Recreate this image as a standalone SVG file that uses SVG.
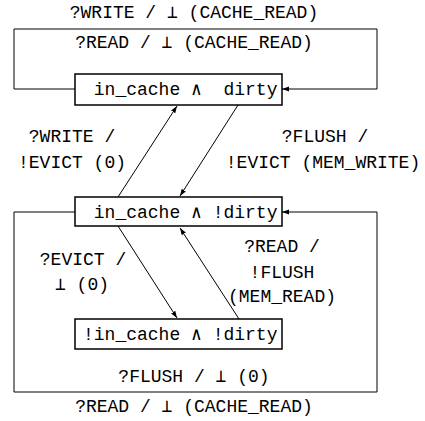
<svg xmlns="http://www.w3.org/2000/svg" width="425" height="421" viewBox="0 0 425 421">
<defs>
<marker id="ah" viewBox="0 0 10 10" refX="10" refY="5" markerWidth="7" markerHeight="7" markerUnits="userSpaceOnUse" orient="auto"><path d="M0,1.5 L10,5 L0,8.5 z" fill="#000"/></marker>
<style>
text{font-family:"Liberation Mono","DejaVu Sans Mono",monospace;font-size:18px;fill:#000;white-space:pre}
.c{text-anchor:middle}
.box{fill:#fff;stroke:#000;stroke-width:1.5}
.ln{fill:none;stroke:#000;stroke-width:1.2}
.ar{fill:none;stroke:#000;stroke-width:1;marker-end:url(#ah)}
</style>
</defs>
<rect width="425" height="421" fill="#fff"/>
<g id="connectors">
<path class="ar" d="M75,89 H14 V29 H377 V89 H282"/>
<path class="ar" d="M75,212 H14 V392 H377 V212 H282"/>
<path class="ar" d="M118,197 L177,106"/>
<path class="ar" d="M238,105 L180,196"/>
<path class="ar" d="M118,226 L177,318"/>
<path class="ar" d="M239,319 L180,228"/>
<text class="c" x="194" y="18">?WRITE / ⊥ (CACHE_READ)</text>
<text class="c" x="194" y="48">?READ / ⊥ (CACHE_READ)</text>
<text class="c" x="72" y="142">?WRITE /</text>
<text class="c" x="72" y="168">!EVICT (0)</text>
<text class="c" x="325" y="142">?FLUSH /</text>
<text class="c" x="323" y="168">!EVICT (MEM_WRITE)</text>
<text class="c" x="83" y="265">?EVICT /</text>
<text class="c" x="82" y="290">⊥ (0)</text>
<text class="c" x="282" y="252">?READ /</text>
<text class="c" x="282" y="278">!FLUSH</text>
<text class="c" x="282" y="302">(MEM_READ)</text>
<text class="c" x="194" y="382">?FLUSH / ⊥ (0)</text>
<text class="c" x="194" y="412">?READ / ⊥ (CACHE_READ)</text>
</g>
<g id="s1">
<rect class="box" x="75" y="74" width="207" height="31"/>
<text x="83" y="95"> in_cache ∧  dirty</text>
</g>
<g id="s2">
<rect class="box" x="75" y="197" width="207" height="29"/>
<text x="83" y="218"> in_cache ∧ !dirty</text>
</g>
<g id="s3">
<rect class="box" x="75" y="319" width="207" height="30"/>
<text x="83" y="340">!in_cache ∧ !dirty</text>
</g>
</svg>
